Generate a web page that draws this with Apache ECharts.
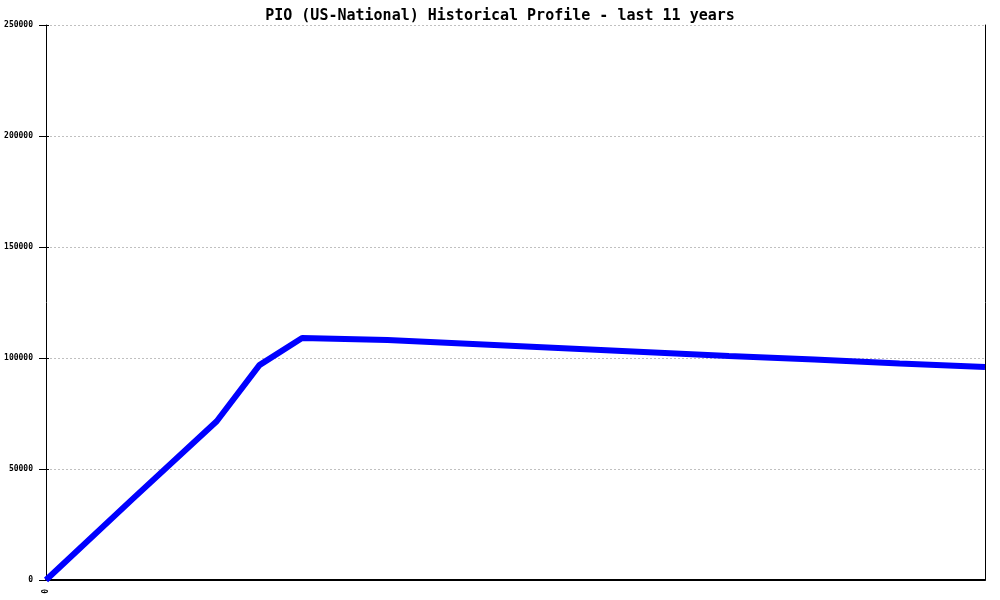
<!DOCTYPE html>
<html>
<head>
<meta charset="utf-8">
<script src="https://cdn.jsdelivr.net/npm/echarts@6/dist/echarts.min.js"></script>
<style>
html,body{margin:0;padding:0;background:#fff;}
#chart{width:1000px;height:600px;}
</style>
</head>
<body>
<div id="chart"></div>
<script>
const titleText = 'PIO (US-National) Historical Profile - last 11 years';
const years = [0, 1, 2, 2.5, 3, 4, 5, 6, 7, 8, 9, 10, 11];
const values = [0, 36000, 71500, 96800, 109000, 108100, 106300, 104500, 102700, 100900, 99300, 97500, 95900];
const yTicks = [0, 50000, 100000, 150000, 200000, 250000];

const chart = echarts.init(document.getElementById('chart'), null, {renderer: 'canvas'});
const mono = 'DejaVu Sans Mono';
const yBase = {
  type: 'value', min: yTicks[0], max: yTicks[yTicks.length - 1], interval: yTicks[1] - yTicks[0]
};
chart.setOption({
  animation: false,
  backgroundColor: '#fff',
  title: {
    text: titleText, left: 'center', top: 4,
    textStyle: {fontFamily: mono, fontWeight: 'bold', fontSize: 15, color: '#000'}
  },
  grid: {left: 46, right: 15, top: 25, bottom: 20, containLabel: false, outerBoundsMode: 'none'},
  xAxis: {
    type: 'value', min: 0, max: 11, interval: 1,
    axisLine: {show: true, onZero: false, lineStyle: {color: '#000', width: 2}},
    axisTick: {show: false},
    splitLine: {show: false},
    axisLabel: {
      rotate: 90, margin: 9, fontFamily: mono, fontWeight: 'bold', fontSize: 8, color: '#000',
      formatter: v => (v === 0 ? '0' : '')
    }
  },
  yAxis: [
    Object.assign({}, yBase, {
      position: 'left',
      axisLine: {show: true, lineStyle: {color: '#000', width: 1}},
      axisTick: {show: true, length: 7, lineStyle: {color: '#000'}},
      axisLabel: {margin: 13, fontFamily: mono, fontWeight: 'bold', fontSize: 8, color: '#000', formatter: v => String(v)},
      splitLine: {show: true, lineStyle: {color: '#c0c0c0', type: [2, 2], width: 1}}
    }),
    Object.assign({}, yBase, {
      position: 'left',
      axisLine: {show: false},
      axisTick: {show: true, inside: true, length: 3, lineStyle: {color: '#000'}},
      axisLabel: {show: false},
      splitLine: {show: false}
    }),
    Object.assign({}, yBase, {
      position: 'right',
      axisLine: {show: true, lineStyle: {color: '#000', width: 1}},
      axisTick: {show: false},
      axisLabel: {show: false},
      splitLine: {show: false}
    })
  ],
  series: [{
    type: 'line',
    data: years.map((y, i) => [y, values[i]]),
    showSymbol: false,
    symbol: 'none',
    lineStyle: {color: '#0000ff', width: 6},
    itemStyle: {color: '#0000ff'}
  }]
});
</script>
</body>
</html>
